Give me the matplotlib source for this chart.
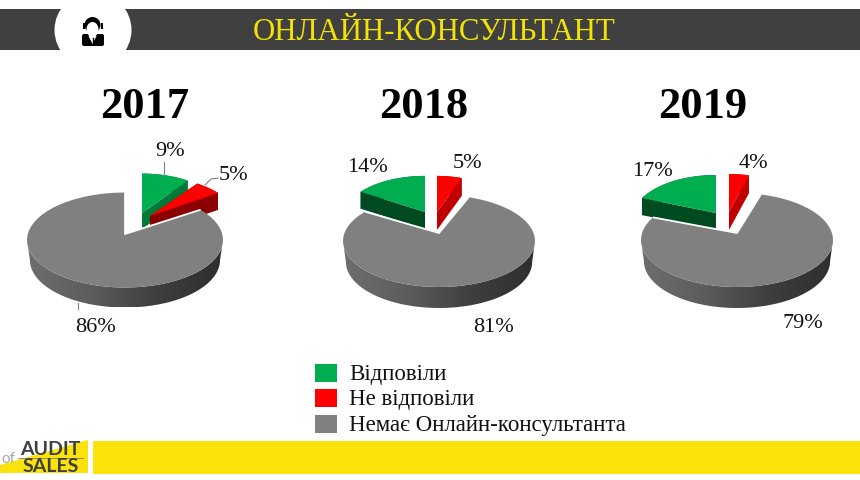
import numpy as np
import matplotlib
matplotlib.use('Agg')
import matplotlib.pyplot as plt
from matplotlib.colors import LinearSegmentedColormap
from matplotlib.patches import Circle, Ellipse, FancyBboxPatch, Polygon, Rectangle

plt.rcParams['font.family'] = ['Liberation Serif', 'DejaVu Serif']

years = ['2017', '2018', '2019']
answered = [9, 14, 17]
not_answered = [5, 5, 4]
no_widget = [86, 81, 79]
legend_labels = ['Відповіли', 'Не відповіли', 'Немає Онлайн-консультанта']
header = 'ОНЛАЙН-КОНСУЛЬТАНТ'

GREEN, RED, GRAY = '#00ad4f', '#ff0000', '#808080'
DARK_GREEN = ['#007a38', '#004a22', '#004a22']
DARK_RED = ['#8b0000', '#c00000', '#c00000']

# layout of the three pies, in pixels of the slide
start_angles = [0, -50.4, -61.2]
centers = [(124, 240), (440, 241), (737, 240)]
radii = [(98, 47.5), (96, 46), (96, 47)]
depths = [20, 21, 21]
apexes = [(125, 234), (439, 233), (737, 233)]
green_apexes = [(142, 213), (425, 212), (716, 213)]
red_apexes = [(150, 216), (437, 212), (729, 212)]
green_scale = [0.87, 0.87, 0.88]
red_scale = [0.9, 0.83, 0.83]
title_pos = [(145, 107), (423.5, 107), (702.5, 107)]
green_label_pos = [(170, 151), (367, 167), (652, 171)]
red_label_pos = [(233, 175), (467, 163), (753, 163)]
gray_label_pos = [(95, 327), (494, 327), (803, 323)]

wall_cmap = LinearSegmentedColormap.from_list('wall', ['#6e6e6e', '#5c5c5c', '#3e3e3e', '#2e2e2e'])

fig = plt.figure(figsize=(8.6, 4.8), dpi=100)
ax = fig.add_axes([0, 0, 1, 1])


def arc(apex, radius, lift, t0, t1, sx=1.0, sy=1.0):
    """Points of the rim between two clockwise angles (degrees from the top)."""
    t = np.radians(np.linspace(t0, t1, 60))
    x = apex[0] + radius[0] * sx * np.sin(t)
    y = apex[1] + lift * sy - radius[1] * sy * np.cos(t)
    return np.column_stack([x, y])


def exploded_slice(apex, radius, lift, t0, t1, depth, top, dark, sx):
    rim = arc(apex, radius, lift, t0, t1, sx, 0.95)
    down = np.array([0, depth])
    a = np.array(apex, dtype=float)
    for corner in (rim[0], rim[-1]):
        ax.add_patch(Polygon([a, corner, corner + down, a + down], color=dark, lw=0))
    ax.add_patch(Polygon(np.vstack([rim, rim[::-1] + down]), color=dark, lw=0))
    ax.add_patch(Polygon(np.vstack([a, rim]), color=top, lw=0))


def gray_slice(apex, center, radius, lift, t0, t1, depth):
    front = arc(apex, radius, lift, 90, 270)
    # the lower rim is a little narrower, the pie is seen in perspective
    lower = front[::-1] + [0, depth]
    lower[:, 0] = center[0] + (lower[:, 0] - center[0]) * 0.97
    wall = Polygon(np.vstack([front, lower]), transform=ax.transData,
                   facecolor='none', edgecolor='none')
    ax.add_patch(wall)
    gradient = np.linspace(0, 1, 256).reshape(1, -1)
    im = ax.imshow(gradient, cmap=wall_cmap, aspect='auto',
                   extent=[center[0] - radius[0], center[0] + radius[0],
                           center[1] + radius[1] + depth, center[1] - 5])
    im.set_clip_path(wall)
    rim = arc(apex, radius, lift, t0, t1)
    ax.add_patch(Polygon(np.vstack([apex, rim]), color=GRAY, lw=0))
    ax.plot([rim[0, 0], apex[0], rim[-1, 0]], [rim[0, 1], apex[1], rim[-1, 1]],
            color='white', lw=1.3, solid_capstyle='butt')


# header band
ax.add_patch(Rectangle((0, 9), 860, 41, color='#404040', lw=0))
ax.add_patch(Ellipse((93, 30), 77, 76, color='white', lw=0))
ax.add_patch(Rectangle((55, 50), 80, 20, color='white', lw=0))
ax.add_patch(Rectangle((55, 0), 80, 9, color='white', lw=0))
ax.text(434, 32, header, color='#f2e205', fontsize=22.2, ha='center', va='center')

# operator icon
ax.add_patch(FancyBboxPatch((84, 36), 18, 8, boxstyle='round,pad=2', color='black', lw=0))
ax.add_patch(Circle((92.5, 25), 8, color='black', lw=0))
ax.add_patch(Ellipse((92.5, 29.5), 12, 15, color='white', lw=0))
ax.add_patch(Rectangle((83, 23), 2, 6, color='black', lw=0))
ax.add_patch(Rectangle((100.5, 23), 2, 6, color='black', lw=0))
ax.add_patch(Polygon([(88.5, 36), (96.5, 36), (92.5, 44)], color='white', lw=0))
ax.plot([92.5, 92.5], [38, 44], color='black', lw=1)

# pies
for i in range(3):
    g_end = start_angles[i] + answered[i] * 3.6
    r_end = g_end + not_answered[i] * 3.6
    end = start_angles[i] + 360
    lift = centers[i][1] - apexes[i][1]
    exploded_slice(green_apexes[i], radii[i], lift, start_angles[i], g_end,
                   depths[i] - 4, GREEN, DARK_GREEN[i], green_scale[i])
    exploded_slice(red_apexes[i], radii[i], lift, g_end, r_end,
                   depths[i] - 3, RED, DARK_RED[i], red_scale[i])
    gray_slice(apexes[i], centers[i], radii[i], lift, r_end, end, depths[i])

    ax.text(*title_pos[i], years[i], fontsize=32, fontweight='bold', ha='center', va='center', color='black')
    ax.text(*green_label_pos[i], f'{answered[i]}%', fontsize=16, ha='center', va='center', color='#111111')
    ax.text(*red_label_pos[i], f'{not_answered[i]}%', fontsize=16, ha='center', va='center', color='#111111')
    ax.text(*gray_label_pos[i], f'{no_widget[i]}%', fontsize=16, ha='center', va='center', color='#111111')

# leader lines, only the 2017 pie has them
ax.plot([164, 164], [162, 175], color='#808080', lw=0.8)
ax.plot([205, 211, 218], [185, 179, 178], color='#808080', lw=0.8)
ax.plot([78, 78], [303, 309], color='#808080', lw=0.8)

# legend
for y, color, label in zip([364, 389, 415], [GREEN, RED, GRAY], legend_labels):
    ax.add_patch(Rectangle((315, y), 22, 18, color=color, lw=0))
    ax.text(349, y + 10.5, label, fontsize=16.5, ha='left', va='center', color='#111111')

# footer
ax.add_patch(Rectangle((93, 441), 767, 33, color='#fae20a', lw=0))
ax.add_patch(Polygon([(0, 465), (88, 440), (88, 473), (0, 473)], color='#fae20a', lw=0))
ax.text(50.5, 449.5, 'AUDIT', family='Lato', fontweight='bold', fontsize=14, color='#404040', ha='center', va='center')
ax.text(50.5, 466, 'SALES', family='Lato', fontweight='bold', fontsize=14, color='#404040', ha='center', va='center')
ax.text(8, 459, 'of', family='Lato', fontsize=11, color='#a8a8a8', ha='center', va='center')
ax.plot([18, 83], [457.5, 457.5], color='#808080', lw=0.6)

ax.set_xlim(0, 860)
ax.set_ylim(480, 0)
ax.axis('off')

fig.savefig('out.png', dpi=100)
